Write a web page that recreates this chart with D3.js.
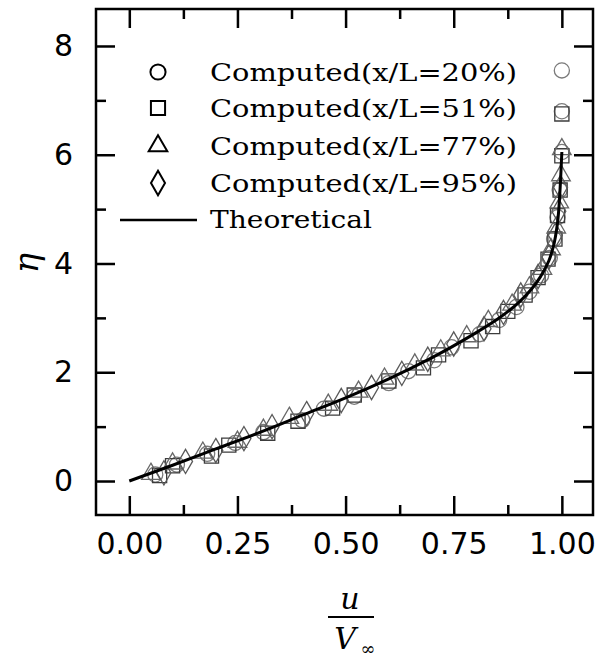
<!DOCTYPE html>
<html>
<head>
<meta charset="utf-8">
<script src="https://cdn.jsdelivr.net/npm/d3@7"></script>
<style>
  body { margin: 0; background: #fff; }
  svg { display: block; }
</style>
</head>
<body>
<div id="chart"></div>
<script>
"use strict";

// Courbe theorique (u/Vinf, eta)
var theoU   = [0, 0.1, 0.2, 0.3, 0.4, 0.5, 0.6, 0.7, 0.8, 0.85, 0.9, 0.93, 0.95, 0.97, 0.98, 0.99, 0.995, 0.998, 1.0];
var theoEta = [0, 0.29, 0.59, 0.89, 1.21, 1.53, 1.88, 2.27, 2.72, 2.97, 3.28, 3.53, 3.75, 4.05, 4.3, 4.75, 5.25, 5.7, 6.05];

// Points calcules, x/L = 20%
var u20   = [0.06, 0.11, 0.18, 0.245, 0.31, 0.40, 0.45, 0.52, 0.60, 0.645, 0.705, 0.745, 0.81, 0.855, 0.895, 0.925, 0.952, 0.972, 0.982, 0.99, 0.995, 1.0, 1.0, 1.0];
var eta20 = [0.12, 0.30, 0.50, 0.70, 0.90, 1.12, 1.33, 1.55, 1.80, 2.02, 2.22, 2.46, 2.70, 2.96, 3.20, 3.48, 3.78, 4.10, 4.45, 4.85, 5.35, 6.05, 6.80, 7.55];
// x/L = 51%
var u51   = [0.07, 0.10, 0.19, 0.23, 0.32, 0.39, 0.47, 0.52, 0.60, 0.68, 0.715, 0.79, 0.84, 0.875, 0.915, 0.945, 0.968, 0.984, 0.99, 0.996, 1.0, 1.0];
var eta51 = [0.10, 0.28, 0.46, 0.66, 0.88, 1.10, 1.34, 1.58, 1.84, 2.08, 2.32, 2.58, 2.84, 3.12, 3.42, 3.74, 4.08, 4.45, 4.88, 5.35, 5.98, 6.75];
// x/L = 77%
var u77   = [0.05, 0.10, 0.17, 0.25, 0.31, 0.37, 0.46, 0.53, 0.59, 0.66, 0.72, 0.78, 0.83, 0.885, 0.925, 0.955, 0.975, 0.987, 0.994, 0.998, 1.0];
var eta77 = [0.13, 0.32, 0.52, 0.72, 0.94, 1.16, 1.40, 1.64, 1.88, 2.14, 2.40, 2.66, 2.94, 3.24, 3.56, 3.90, 4.26, 4.66, 5.12, 5.62, 6.10];
// x/L = 95%
var u95   = [0.08, 0.13, 0.20, 0.265, 0.33, 0.41, 0.49, 0.56, 0.63, 0.69, 0.75, 0.82, 0.865, 0.905, 0.945, 0.97, 0.985, 0.993, 0.997];
var eta95 = [0.15, 0.36, 0.56, 0.78, 1.00, 1.24, 1.48, 1.72, 1.98, 2.24, 2.52, 2.80, 3.10, 3.42, 3.76, 4.12, 4.52, 4.96, 5.40];

var legendLabels = ["Computed(x/L=20%)", "Computed(x/L=51%)", "Computed(x/L=77%)", "Computed(x/L=95%)", "Theoretical"];
var xTicks = [0, 0.25, 0.5, 0.75, 1.0];
var xMinor = [0.125, 0.375, 0.625, 0.875];
var yTicks = [0, 2, 4, 6, 8];
var yMinor = [1, 3, 5, 7];

var larg = 607;
var haut = 661;

// cadre du graphe
var gauche = 96, droite = 593, haut_ = 9, bas = 515;

var svg = d3.select("#chart")
	.append("svg")
	.attr("width", larg)
	.attr("height", haut)
	.attr("viewBox", "0 0 " + larg + " " + haut);

var x = d3.scaleLinear().domain([-0.077, 1.072]).range([gauche, droite]);
var y = d3.scaleLinear().domain([-0.625, 8.68]).range([bas, haut_]);

// Axes : graduations vers l'interieur sur les quatre cotes
function styleAxe(g) {
	g.select(".domain").remove();
	g.selectAll("line").attr("stroke", "#000").attr("stroke-width", 2.5);
}

svg.append("g")
	.attr("transform", "translate(0," + bas + ")")
	.call(d3.axisBottom(x).tickValues(xTicks).tickSize(-19).tickPadding(18).tickFormat(d3.format(".2f")))
	.call(styleAxe)
	.selectAll("text")
	.attr("font-family", "DejaVu Sans")
	.attr("font-size", "30px")
	.attr("fill", "#000");

svg.append("g")
	.attr("transform", "translate(0," + bas + ")")
	.call(d3.axisBottom(x).tickValues(xMinor).tickSize(-10).tickFormat(""))
	.call(styleAxe);

svg.append("g")
	.attr("transform", "translate(0," + haut_ + ")")
	.call(d3.axisTop(x).tickValues(xTicks).tickSize(-19).tickFormat(""))
	.call(styleAxe);

svg.append("g")
	.attr("transform", "translate(0," + haut_ + ")")
	.call(d3.axisTop(x).tickValues(xMinor).tickSize(-10).tickFormat(""))
	.call(styleAxe);

svg.append("g")
	.attr("transform", "translate(" + gauche + ",0)")
	.call(d3.axisLeft(y).tickValues(yTicks).tickSize(-19).tickPadding(23).tickFormat(d3.format("d")))
	.call(styleAxe)
	.selectAll("text")
	.attr("font-family", "DejaVu Sans")
	.attr("font-size", "30px")
	.attr("fill", "#000");

svg.append("g")
	.attr("transform", "translate(" + gauche + ",0)")
	.call(d3.axisLeft(y).tickValues(yMinor).tickSize(-10).tickFormat(""))
	.call(styleAxe);

svg.append("g")
	.attr("transform", "translate(" + droite + ",0)")
	.call(d3.axisRight(y).tickValues(yTicks).tickSize(-19).tickFormat(""))
	.call(styleAxe);

svg.append("g")
	.attr("transform", "translate(" + droite + ",0)")
	.call(d3.axisRight(y).tickValues(yMinor).tickSize(-10).tickFormat(""))
	.call(styleAxe);

svg.append("rect")
	.attr("x", gauche)
	.attr("y", haut_)
	.attr("width", droite - gauche)
	.attr("height", bas - haut_)
	.attr("fill", "none")
	.attr("stroke", "#000")
	.attr("stroke-width", 2.5);

// Symboles
var symCercle = d3.symbol().type(d3.symbolCircle).size(180);
var symCarre = d3.symbol().type(d3.symbolSquare).size(200);
var symTriangle = d3.symbol().type(d3.symbolTriangle).size(150);
var symLosange = d3.symbol().type(d3.symbolDiamond).size(170);

var series = [
	{ u: u20, eta: eta20, sym: symCercle, couleur: "#7a7a7a" },
	{ u: u51, eta: eta51, sym: symCarre, couleur: "#3c3c3c" },
	{ u: u77, eta: eta77, sym: symTriangle, couleur: "#686868" },
	{ u: u95, eta: eta95, sym: symLosange, couleur: "#5a5a5a" }
];

series.forEach(function(s) {
	svg.append("g")
		.selectAll("path")
		.data(s.u)
		.enter()
		.append("path")
		.attr("d", s.sym)
		.attr("transform", function(d, i) {
			return "translate(" + x(d) + "," + y(s.eta[i]) + ")";
		})
		.attr("fill", "none")
		.attr("stroke", s.couleur)
		.attr("stroke-width", 1.3);
});

// Courbe theorique
var ligne = d3.line()
	.x(function(d, i) { return x(d); })
	.y(function(d, i) { return y(theoEta[i]); })
	.curve(d3.curveMonotoneY);

svg.append("path")
	.attr("d", ligne(theoU))
	.attr("fill", "none")
	.attr("stroke", "#000")
	.attr("stroke-width", 3);

// Legende
var legX = 158, legTexte = 210;
var legY = [72, 108, 146, 183, 219];
var legSym = [symCercle, symCarre, symTriangle, symLosange];

legSym.forEach(function(sym, i) {
	svg.append("path")
		.attr("d", sym)
		.attr("transform", "translate(" + legX + "," + legY[i] + ")")
		.attr("fill", "none")
		.attr("stroke", "#000")
		.attr("stroke-width", 2);
});

svg.append("line")
	.attr("x1", 120)
	.attr("x2", 197)
	.attr("y1", legY[4] + 1)
	.attr("y2", legY[4] + 1)
	.attr("stroke", "#000")
	.attr("stroke-width", 2.5);

svg.selectAll(".leg")
	.data(legendLabels)
	.enter()
	.append("text")
	.attr("class", "leg")
	.attr("x", legTexte)
	.attr("y", function(d, i) { return legY[i] + 9; })
	.attr("textLength", function(d, i) { return i < 4 ? 307 : 162; })
	.attr("lengthAdjust", "spacingAndGlyphs")
	.attr("font-family", "DejaVu Serif")
	.attr("font-size", "25px")
	.attr("fill", "#000")
	.text(function(d) { return d; });

// Titres des axes
svg.append("text")
	.attr("transform", "translate(38,263) rotate(-90)")
	.attr("text-anchor", "middle")
	.attr("font-family", "DejaVu Serif")
	.attr("font-style", "italic")
	.attr("font-size", "34px")
	.text("η");

svg.append("text")
	.attr("x", 350)
	.attr("y", 609)
	.attr("text-anchor", "middle")
	.attr("font-family", "DejaVu Serif")
	.attr("font-style", "italic")
	.attr("font-size", "30px")
	.text("u");

svg.append("line")
	.attr("x1", 328)
	.attr("x2", 374)
	.attr("y1", 617)
	.attr("y2", 617)
	.attr("stroke", "#000")
	.attr("stroke-width", 2);

svg.append("text")
	.attr("x", 345)
	.attr("y", 649)
	.attr("text-anchor", "middle")
	.attr("font-family", "DejaVu Serif")
	.attr("font-style", "italic")
	.attr("font-size", "30px")
	.text("V");

svg.append("text")
	.attr("x", 368)
	.attr("y", 655)
	.attr("text-anchor", "middle")
	.attr("font-family", "DejaVu Serif")
	.attr("font-size", "18px")
	.text("∞");
</script>
</body>
</html>
